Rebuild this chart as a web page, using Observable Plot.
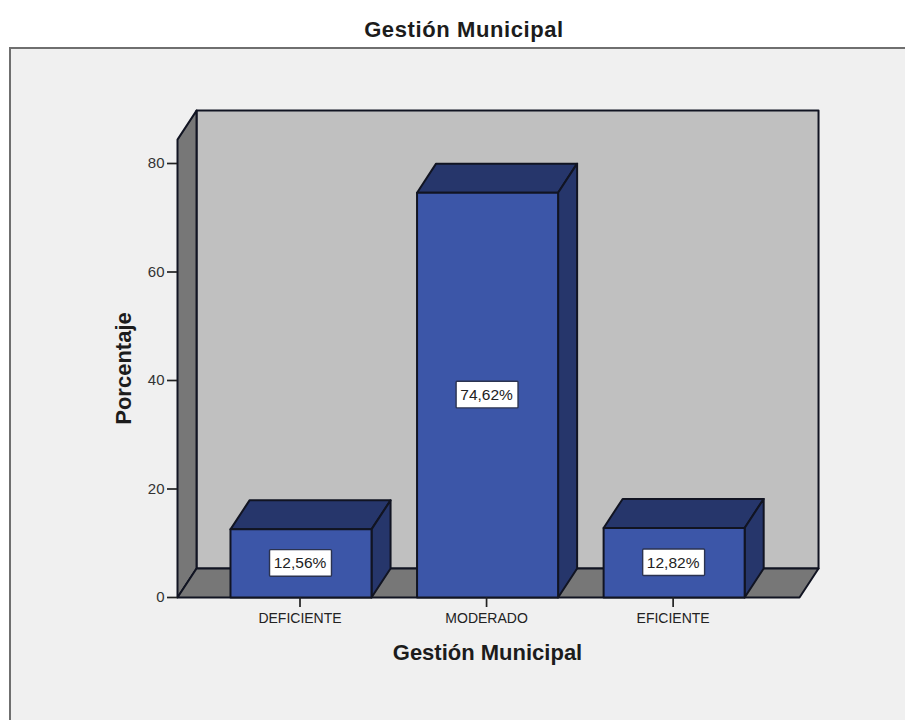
<!DOCTYPE html>
<html lang="es">
<head>
<meta charset="utf-8">
<script src="https://cdn.jsdelivr.net/npm/d3@7"></script>
<script src="https://cdn.jsdelivr.net/npm/@observablehq/plot@0.6"></script>
<style>
html,body{margin:0;padding:0;background:#fff;overflow:hidden;}
body{width:905px;height:720px;position:relative;font-family:"Liberation Sans",Arial,sans-serif;}
#title{position:absolute;left:0;top:17px;width:905px;box-sizing:border-box;padding-left:23px;text-align:center;
  font-weight:bold;font-size:22px;line-height:26px;letter-spacing:0.6px;color:#1c1c1c;}
#frame{position:absolute;left:9px;top:47px;right:0;bottom:0;background:#f0f0f0;border-left:2px solid #6f6f6f;border-top:2px solid #6f6f6f;}
#chart{position:absolute;left:0;top:47px;}
#chart svg{display:block;background:transparent;}
</style>
</head>
<body>
<div id="title">Gestión Municipal</div>
<div id="frame"></div>
<div id="chart"></div>
<script>
const categories = ["DEFICIENTE", "MODERADO", "EFICIENTE"];
const percentages = [12.56, 74.62, 12.82];
const yTicks = [0, 20, 40, 60, 80];
const axisTitleX = "Gestión Municipal";
const axisTitleY = "Porcentaje";

// Scale extents and the oblique 3D offset, in data units
const xLo = -0.662, xHi = 2.672, yTop = 84.4;
const depthX = 0.102, depthY = 5.35;
const halfBar = 0.378;
const boxHalfX = 0.166, boxHalfY = 2.45;

const ink = "#111422";
const poly = (pts, fill) => Plot.line(pts, {
  x: d => d[0], y: d => d[1], curve: "linear-closed",
  fill, stroke: ink, strokeWidth: 2, strokeLinejoin: "round"
});

const bars = categories.map((c, i) => ({c, i, v: percentages[i]}));
const barFaces = bars.flatMap(({i, v}) => {
  const l = i - halfBar, r = i + halfBar;
  return [
    poly([[l, v], [r, v], [r + depthX, v + depthY], [l + depthX, v + depthY]], "#26366b"),
    poly([[r, 0], [r + depthX, depthY], [r + depthX, v + depthY], [r, v]], "#26366b"),
    poly([[l, 0], [r, 0], [r, v], [l, v]], "#3c56a8")
  ];
});

const chart = Plot.plot({
  width: 905,
  height: 673,
  marginLeft: 177,
  marginRight: 106,
  marginTop: 116,
  marginBottom: 123,
  style: {background: "transparent", fontFamily: "'Liberation Sans', Arial, sans-serif", overflow: "visible"},
  x: {type: "linear", domain: [xLo, xHi]},
  y: {domain: [0, 80]},
  marks: [
    poly([[xLo + depthX, depthY], [xHi + depthX, depthY], [xHi + depthX, yTop + depthY], [xLo + depthX, yTop + depthY]], "#c0c0c0"),
    poly([[xLo, 0], [xLo + depthX, depthY], [xLo + depthX, yTop + depthY], [xLo, yTop]], "#777777"),
    poly([[xLo, 0], [xHi, 0], [xHi + depthX, depthY], [xLo + depthX, depthY]], "#777777"),
    ...barFaces,
    Plot.rect(bars, {
      x1: d => d.i - boxHalfX, x2: d => d.i + boxHalfX,
      y1: d => d.v / 2 - boxHalfY, y2: d => d.v / 2 + boxHalfY,
      fill: "#ffffff", stroke: "#2b3350", strokeWidth: 1.4, rx: 1
    }),
    Plot.text(bars, {
      x: "i", y: d => d.v / 2,
      text: d => d.v.toFixed(2).replace(".", ",") + "%",
      fontSize: 15.5, fill: "#222", dx: -1
    }),
    Plot.axisY({ticks: yTicks, tickSize: 10, tickPadding: 3, tickFormat: d => d, label: null, fontSize: 15, color: "#333", stroke: "#222", strokeWidth: 1.7}),
    Plot.axisX({ticks: [0, 1, 2], tickSize: 10, tickPadding: 6, tickFormat: i => categories[i], label: null, fontSize: 14, color: "#222", stroke: "#222", strokeWidth: 1.7, dx: -1}),
    Plot.text([axisTitleX], {frameAnchor: "bottom", lineAnchor: "middle", dy: 55, dx: -1, fontSize: 22, fontWeight: "bold", fill: "#1c1c1c"}),
    Plot.text([axisTitleY], {frameAnchor: "left", textAnchor: "middle", lineAnchor: "middle", rotate: -90, dx: -54, dy: -12, fontSize: 22, fontWeight: "bold", fill: "#1c1c1c"})
  ]
});
document.getElementById("chart").appendChild(chart);
</script>
</body>
</html>
